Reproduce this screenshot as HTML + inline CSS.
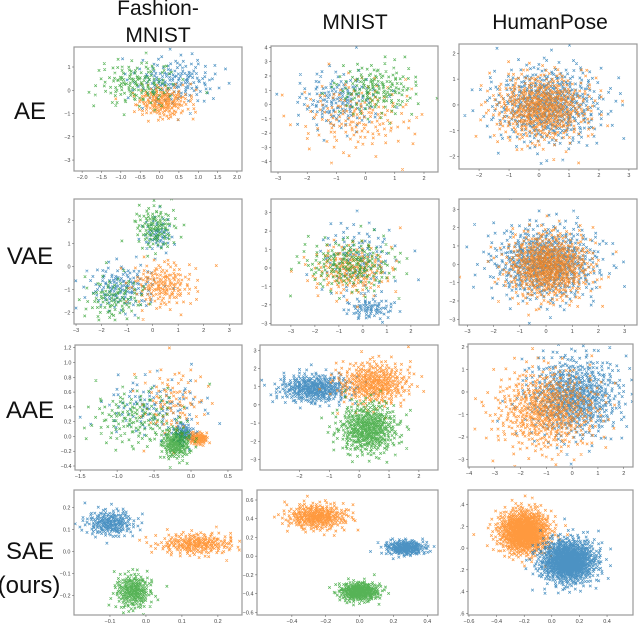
<!DOCTYPE html>
<html><head><meta charset="utf-8">
<style>
html,body{margin:0;padding:0;background:#fff;}
svg{display:block;font-family:"Liberation Sans",sans-serif;}
.tk{font-size:5.5px;fill:#444;}
.hd{font-size:21px;fill:#111;}
.rl{font-size:24px;fill:#111;}
</style></head>
<body>
<svg id="fig" width="640" height="624" viewBox="0 0 640 624" xmlns="http://www.w3.org/2000/svg">
<text class="hd" x="158" y="15" text-anchor="middle">Fashion-</text>
<text class="hd" x="158" y="42" text-anchor="middle">MNIST</text>
<text class="hd" x="355" y="29" text-anchor="middle">MNIST</text>
<text class="hd" x="550" y="29" text-anchor="middle">HumanPose</text>
<text class="rl" x="30" y="119" text-anchor="middle">AE</text>
<text class="rl" x="30" y="264" text-anchor="middle">VAE</text>
<text class="rl" x="30" y="418" text-anchor="middle">AAE</text>
<text class="rl" x="30" y="559" text-anchor="middle">SAE</text>
<text class="rl" x="29" y="593" text-anchor="middle">(ours)</text>
</svg>
<script>
// Panel boxes and axis limits
const panelNames = ["fm-ae","mnist-ae","hp-ae","fm-vae","mnist-vae","hp-vae","fm-aae","mnist-aae","hp-aae","fm-sae","mnist-sae","hp-sae"];
const xLimits = [[-2.21,2.13],[-3.24,2.48],[-2.67,3.27],[-3.08,3.5],[-3.83,3.17],[-3.32,3.47],[-1.57,0.69],[-3.32,2.64],[-4.04,2.36],[-0.2,0.267],[-0.606,0.463],[-0.607,0.588]];
const yLimits = [[-3.47,1.86],[-4.72,4.1],[-2.48,2.36],[-2.51,2.95],[-3.09,3.74],[-3.31,3.56],[-0.454,1.237],[-3.58,3.29],[-3.33,2.13],[-0.288,0.28],[-0.629,0.707],[-0.616,0.535]];
const xTicks = [[-2,-1.5,-1,-0.5,0,0.5,1,1.5,2],[-3,-2,-1,0,1,2],[-2,-1,0,1,2,3],[-3,-2,-1,0,1,2,3],[-3,-2,-1,0,1,2],[-3,-2,-1,0,1,2,3],[-1.5,-1,-0.5,0,0.5],[-2,-1,0,1,2],[-4,-3,-2,-1,0,1,2],[-0.1,0,0.1,0.2],[-0.4,-0.2,0,0.2,0.4],[-0.6,-0.4,-0.2,0,0.2,0.4]];
const xTickLabels = [["−2.0","−1.5","−1.0","−0.5","0.0","0.5","1.0","1.5","2.0"],["−3","−2","−1","0","1","2"],["−2","−1","0","1","2","3"],["−3","−2","−1","0","1","2","3"],["−3","−2","−1","0","1","2"],["−3","−2","−1","0","1","2","3"],["−1.5","−1.0","−0.5","0.0","0.5"],["−2","−1","0","1","2"],["−4","−3","−2","−1","0","1","2"],["−0.1","0.0","0.1","0.2"],["−0.4","−0.2","0.0","0.2","0.4"],["−0.6","−0.4","−0.2","0.0","0.2","0.4"]];
const yTicks = [[-3,-2,-1,0,1],[-4,-3,-2,-1,0,1,2,3,4],[-2,-1,0,1,2],[-2,-1,0,1,2],[-3,-2,-1,0,1,2,3],[-3,-2,-1,0,1,2,3],[-0.4,-0.2,0,0.2,0.4,0.6,0.8,1.0,1.2],[-3,-2,-1,0,1,2,3],[-3,-2,-1,0,1,2],[-0.2,-0.1,0,0.1,0.2],[-0.6,-0.4,-0.2,0,0.2,0.4,0.6],[-0.6,-0.4,-0.2,0,0.2,0.4]];
const yTickLabels = [["−3","−2","−1","0","1"],["−4","−3","−2","−1","0","1","2","3","4"],["−2","−1","0","1","2"],["−2","−1","0","1","2"],["−3","−2","−1","0","1","2","3"],["−3","−2","−1","0","1","2","3"],["−0.4","−0.2","0.0","0.2","0.4","0.6","0.8","1.0","1.2"],["−3","−2","−1","0","1","2","3"],["−3","−2","−1","0","1","2"],["−0.2","−0.1","0.0","0.1","0.2"],["−0.6","−0.4","−0.2","0.0","0.2","0.4","0.6"],[".6",".4",".2",".0",".2",".4"]];
// cluster data per panel: [series, centerX, centerY, spreadX, spreadY, count]
const clusters = [
 [["blue",0.4,0.4,0.55,0.5,170],["orange",0.1,-0.5,0.35,0.35,200],["green",-0.6,0.3,0.5,0.5,150]],
 [["blue",-0.9,0.3,0.7,1.0,170],["orange",-0.3,-0.8,1.0,1.3,170],["green",0.4,1.1,0.7,0.9,170]],
 [["blue",0.3,0.0,0.9,0.75,600],["orange",0.1,-0.1,0.8,0.65,600]],
 [["blue",0.2,1.4,0.3,0.4,60],["blue",-1.2,-0.9,0.7,0.5,150],["orange",0.4,-0.8,0.6,0.5,180],["green",0.1,1.7,0.4,0.5,120],["green",-1.5,-1.4,0.6,0.5,100]],
 [["blue",-0.2,0.5,0.8,1.0,120],["blue",0.3,-2.2,0.5,0.3,80],["orange",-0.5,-0.1,0.8,0.7,200],["green",-0.5,0.2,1.0,0.7,200]],
 [["blue",0.0,0.1,1.0,1.0,700],["orange",0.1,-0.1,0.8,0.9,700]],
 [["blue",-0.5,0.4,0.35,0.2,120],["blue",-0.1,0.05,0.07,0.07,80],["orange",-0.25,0.45,0.22,0.25,100],["orange",0.1,-0.03,0.06,0.04,100],["green",-0.75,0.25,0.3,0.2,150],["green",-0.2,-0.1,0.1,0.1,200]],
 [["blue",-1.5,0.9,0.6,0.4,400],["orange",0.5,1.2,0.6,0.6,400],["green",0.3,-1.3,0.5,0.7,500]],
 [["blue",0.1,-0.2,0.9,0.9,700],["orange",-1.0,-0.8,1.0,0.9,600]],
 [["blue",-0.1,0.13,0.035,0.03,220],["orange",0.14,0.035,0.055,0.025,250],["green",-0.035,-0.18,0.025,0.04,250]],
 [["orange",-0.25,0.42,0.09,0.07,350],["blue",0.27,0.09,0.06,0.04,250],["green",0.0,-0.38,0.06,0.05,350]],
 [["orange",-0.2,0.15,0.09,0.1,1000],["blue",0.12,-0.12,0.1,0.1,1100]]
];
const boxes = [[74,47,242,171],[271,46,438,172],[459,44,637,169],[74,199,242,324],[271,199,439,325],[459,199,637,325],[75,345,242,470],[260,345,438,470],[468,344,633,467],[74,490,242,615],[257,490,438,615],[468,490,633,615]];
const colors = {blue:"#1f77b4",orange:"#ff7f0e",green:"#2ca02c"};
const NS = "http://www.w3.org/2000/svg";
const svg = document.getElementById("fig");
function halton(i,b){let f=1,r=0;while(i>0){f/=b;r+=f*(i%b);i=Math.floor(i/b);}return r;}
function mk(tag,attrs){const e=document.createElementNS(NS,tag);for(const k in attrs)e.setAttribute(k,attrs[k]);return e;}
panelNames.forEach((name,p)=>{
  const [x0,y0,x1,y1]=boxes[p];
  const [xa,xb]=xLimits[p],[ya,yb]=yLimits[p];
  const sx=v=>x0+(v-xa)/(xb-xa)*(x1-x0);
  const sy=v=>y1-(v-ya)/(yb-ya)*(y1-y0);
  const g=mk("g",{});
  
  
  svg.appendChild(g);
  const clipId="clip"+p;
  const cp=mk("clipPath",{id:clipId});cp.appendChild(mk("rect",{x:x0,y:y0,width:x1-x0,height:y1-y0}));g.appendChild(cp);
  const pts=mk("g",{"clip-path":"url(#"+clipId+")"});
  
  
  g.appendChild(pts);
  let seed=p*3001+1;
  const order=["blue","orange","green"];
  const sorted=clusters[p].slice().sort((a,b)=>order.indexOf(a[0])-order.indexOf(b[0]));
  let d={blue:"",orange:"",green:""};
  sorted.forEach(c=>{
    const [ser,cx,cy,sdx,sdy,n]=c;
    for(let i=0;i<n;i++){
      seed++;
      const u1=Math.max(1e-4,halton(seed,2)),u2=halton(seed,3);
      const r=Math.sqrt(-2*Math.log(u1));
      const px=sx(cx+sdx*r*Math.cos(2*Math.PI*u2)),py=sy(cy+sdy*r*Math.sin(2*Math.PI*u2));
      const s=1.3;
      d[ser]+=`M${(px-s).toFixed(1)} ${(py-s).toFixed(1)}L${(px+s).toFixed(1)} ${(py+s).toFixed(1)}M${(px-s).toFixed(1)} ${(py+s).toFixed(1)}L${(px+s).toFixed(1)} ${(py-s).toFixed(1)}`;
    }
  });
  const seq=p===11?["orange","blue"]:order;
  seq.forEach(ser=>{ if(!d[ser])return;
    const path=mk("path",{d:d[ser],stroke:colors[ser],"stroke-width":0.7,fill:"none","stroke-opacity":0.8});
    
    
    pts.appendChild(path);
  });
  const frame=mk("rect",{x:x0,y:y0,width:x1-x0,height:y1-y0,fill:"none",stroke:"#999","stroke-width":1.2});
  
  
  g.appendChild(frame);
  xTicks[p].forEach((v,i)=>{
    const x=sx(v);
    g.appendChild(mk("line",{x1:x,x2:x,y1:y1,y2:y1+2,stroke:"#555","stroke-width":0.5}));
    const t=mk("text",{x:x,y:y1+8,"text-anchor":"middle",class:"tk"});
    t.textContent=xTickLabels[p][i];
    
    
    g.appendChild(t);
  });
  yTicks[p].forEach((v,i)=>{
    const y=sy(v);
    g.appendChild(mk("line",{x1:x0-2,x2:x0,y1:y,y2:y,stroke:"#555","stroke-width":0.5}));
    const t=mk("text",{x:x0-3.5,y:y+2,"text-anchor":"end",class:"tk"});
    t.textContent=yTickLabels[p][i];
    
    
    g.appendChild(t);
  });
});
</script>
</body></html>
